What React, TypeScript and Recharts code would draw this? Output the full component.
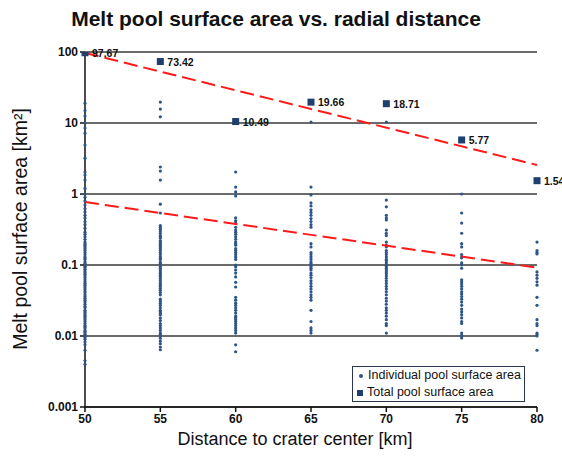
import React from 'react';
import { ScatterChart, Scatter, XAxis, YAxis, CartesianGrid, LabelList } from 'recharts';

const distances = [50, 55, 60, 65, 70, 75, 80];
const xTicks = [50, 55, 60, 65, 70, 75, 80];
const yTicks = [0.001, 0.01, 0.1, 1, 10, 100];

const c50 = [100, 19, 15, 12.5, 10, 8.5, 7.2, 4.9, 3.2, 2.04, 1.85, 1.57, 1.2, 1.0, 0.9, 0.8, 0.7, 0.62, 0.56, 0.5, 0.46, 0.41, 0.37, 0.33, 0.29, 0.27, 0.25, 0.23, 0.21, 0.2, 0.19, 0.18, 0.17, 0.16, 0.15, 0.14, 0.13, 0.125, 0.12, 0.11, 0.105, 0.1, 0.096, 0.092, 0.087, 0.082, 0.078, 0.074, 0.07, 0.066, 0.062, 0.058, 0.055, 0.052, 0.049, 0.046, 0.043, 0.041, 0.038, 0.036, 0.034, 0.032, 0.03, 0.028, 0.026, 0.025, 0.023, 0.022, 0.021, 0.02, 0.019, 0.018, 0.017, 0.016, 0.015, 0.014, 0.0135, 0.013, 0.012, 0.0115, 0.011, 0.0105, 0.01, 0.0095, 0.009, 0.0082, 0.0075, 0.0063, 0.0045, 0.004];
const c55 = [19.7, 15.7, 12.2, 2.4, 2.1, 1.57, 0.72, 0.54, 0.36, 0.34, 0.32, 0.3, 0.28, 0.26, 0.25, 0.24, 0.22, 0.21, 0.2, 0.19, 0.18, 0.17, 0.16, 0.15, 0.14, 0.13, 0.125, 0.12, 0.11, 0.105, 0.1, 0.095, 0.09, 0.085, 0.08, 0.076, 0.072, 0.068, 0.064, 0.06, 0.056, 0.053, 0.05, 0.047, 0.044, 0.041, 0.038, 0.033, 0.031, 0.029, 0.027, 0.025, 0.023, 0.022, 0.021, 0.02, 0.018, 0.0165, 0.015, 0.014, 0.013, 0.012, 0.011, 0.0105, 0.01, 0.0093, 0.0085, 0.0078, 0.007, 0.0064];
const c60 = [10.1, 2.04, 1.25, 1.07, 0.94, 0.46, 0.42, 0.39, 0.34, 0.31, 0.29, 0.27, 0.25, 0.23, 0.21, 0.2, 0.19, 0.17, 0.16, 0.15, 0.14, 0.13, 0.12, 0.1, 0.094, 0.085, 0.077, 0.068, 0.057, 0.049, 0.035, 0.032, 0.029, 0.027, 0.025, 0.023, 0.021, 0.019, 0.018, 0.017, 0.016, 0.015, 0.014, 0.013, 0.012, 0.011, 0.0075, 0.006];
const c65 = [10.3, 1.25, 0.97, 0.75, 0.68, 0.6, 0.55, 0.5, 0.45, 0.41, 0.37, 0.34, 0.2, 0.18, 0.15, 0.14, 0.13, 0.12, 0.11, 0.105, 0.1, 0.095, 0.09, 0.085, 0.077, 0.072, 0.066, 0.06, 0.055, 0.05, 0.046, 0.042, 0.038, 0.035, 0.032, 0.023, 0.016, 0.013, 0.012, 0.011];
const c70 = [10.3, 0.82, 0.66, 0.5, 0.46, 0.43, 0.31, 0.28, 0.26, 0.21, 0.19, 0.18, 0.16, 0.15, 0.14, 0.13, 0.12, 0.115, 0.107, 0.1, 0.095, 0.09, 0.085, 0.08, 0.075, 0.07, 0.065, 0.06, 0.055, 0.05, 0.046, 0.042, 0.038, 0.034, 0.031, 0.028, 0.025, 0.023, 0.021, 0.019, 0.017, 0.015, 0.014, 0.011];
const c75 = [1.0, 0.54, 0.39, 0.28, 0.2, 0.18, 0.14, 0.13, 0.126, 0.107, 0.1, 0.09, 0.062, 0.058, 0.054, 0.05, 0.046, 0.042, 0.039, 0.036, 0.033, 0.03, 0.027, 0.024, 0.022, 0.02, 0.018, 0.016, 0.015, 0.011, 0.0102, 0.0094];
const c80 = [0.21, 0.16, 0.15, 0.143, 0.08, 0.072, 0.065, 0.058, 0.052, 0.035, 0.027, 0.017, 0.015, 0.014, 0.011, 0.0105, 0.01, 0.0063];

const totals = [97.67, 73.42, 10.49, 19.66, 18.71, 5.77, 1.54];

const trendTotalX = [50, 80];
const trendTotalY = [97.1, 2.56];
const trendIndivX = [50, 80];
const trendIndivY = [0.77, 0.092];

const columns = [c50, c55, c60, c65, c70, c75, c80];
const individualData = columns.flatMap((col, i) => col.map((v) => ({ x: distances[i], y: v })));
const totalData = distances.map((d, i) => ({ x: d, y: totals[i] }));
const trendTotal = trendTotalX.map((x, i) => ({ x, y: trendTotalY[i] }));
const trendIndiv = trendIndivX.map((x, i) => ({ x, y: trendIndivY[i] }));

const DOT = '#2d5589';
const SQ = '#1f3f6e';
const FONT = '"Liberation Sans", Arial, sans-serif';

const DotShape = (p: any) => <circle cx={p.cx} cy={p.cy} r={1.6} fill={DOT} />;
const SquareShape = (p: any) => <rect x={p.cx - 3.5} y={p.cy - 3.5} width={7} height={7} fill={SQ} />;
const NoShape = () => <g />;

const TotalLabel = (p: any) => (
  <text x={p.x + p.width / 2 + 7} y={p.y + p.height / 2 + 4} fontSize={10.5} fontWeight="bold" fill="#111" fontFamily={FONT}>
    {Number(p.value).toFixed(2)}
  </text>
);

export default function App() {
  return (
    <div style={{ position: 'absolute', left: 0, top: 0, width: 562, height: 456, background: '#fff', fontFamily: FONT }}>
      <div style={{ position: 'absolute', left: 0, top: 7, width: 552, textAlign: 'center', fontSize: 21, fontWeight: 'bold', color: '#111' }}>
        Melt pool surface area vs. radial distance
      </div>
      <ScatterChart width={562} height={456} margin={{ top: 52, right: 25, bottom: 0, left: 0 }}>
        <CartesianGrid vertical={false} stroke="#3a3a3a" strokeWidth={1.5} />
        <XAxis
          type="number"
          dataKey="x"
          domain={[50, 80]}
          ticks={xTicks}
          height={49}
          axisLine={{ stroke: '#111', strokeWidth: 1.5 }}
          tickLine={{ stroke: '#111', strokeWidth: 1.5 }}
          tickSize={5}
          tick={{ fontSize: 12, fontWeight: 'bold', fill: '#111', fontFamily: FONT }}
        />
        <YAxis
          type="number"
          dataKey="y"
          scale="log"
          domain={[0.001, 100]}
          ticks={yTicks}
          allowDataOverflow
          width={85}
          axisLine={{ stroke: '#111', strokeWidth: 1.5 }}
          tickLine={{ stroke: '#111', strokeWidth: 1.5 }}
          tickSize={5}
          tickFormatter={(v: number) => String(v)}
          tick={{ fontSize: 12, fontWeight: 'bold', fill: '#111', fontFamily: FONT }}
        />
        <Scatter data={individualData} shape={DotShape} isAnimationActive={false} />
        <Scatter
          data={trendTotal}
          shape={NoShape}
          line={{ stroke: '#ff1a1a', strokeWidth: 2, strokeDasharray: '14 6' }}
          isAnimationActive={false}
        />
        <Scatter
          data={trendIndiv}
          shape={NoShape}
          line={{ stroke: '#ff1a1a', strokeWidth: 2, strokeDasharray: '14 6' }}
          isAnimationActive={false}
        />
        <Scatter data={totalData} shape={SquareShape} isAnimationActive={false}>
          <LabelList dataKey="y" content={TotalLabel} />
        </Scatter>
      </ScatterChart>
      <div style={{ position: 'absolute', left: 0, top: 429, width: 590, textAlign: 'center', fontSize: 18, color: '#111' }}>
        Distance to crater center [km]
      </div>
      <div
        style={{
          position: 'absolute',
          left: 20,
          top: 229,
          transform: 'translate(-50%, -50%) rotate(-90deg)',
          whiteSpace: 'nowrap',
          fontSize: 19.5,
          color: '#111',
        }}
      >
        Melt pool surface area [km²]
      </div>
      <div
        style={{
          position: 'absolute',
          left: 352,
          top: 366,
          width: 171,
          height: 34,
          border: '1px solid #2a3550',
          background: '#fff',
          fontSize: 12.5,
          color: '#111',
          lineHeight: '17px',
        }}
      >
        <div style={{ display: 'flex', alignItems: 'center', height: 17 }}>
          <span style={{ display: 'inline-block', width: 4, height: 4, borderRadius: 2, background: DOT, marginLeft: 6, marginRight: 5 }} />
          Individual pool surface area
        </div>
        <div style={{ display: 'flex', alignItems: 'center', height: 17 }}>
          <span style={{ display: 'inline-block', width: 6, height: 6, background: SQ, marginLeft: 4, marginRight: 4 }} />
          Total pool surface area
        </div>
      </div>
    </div>
  );
}
